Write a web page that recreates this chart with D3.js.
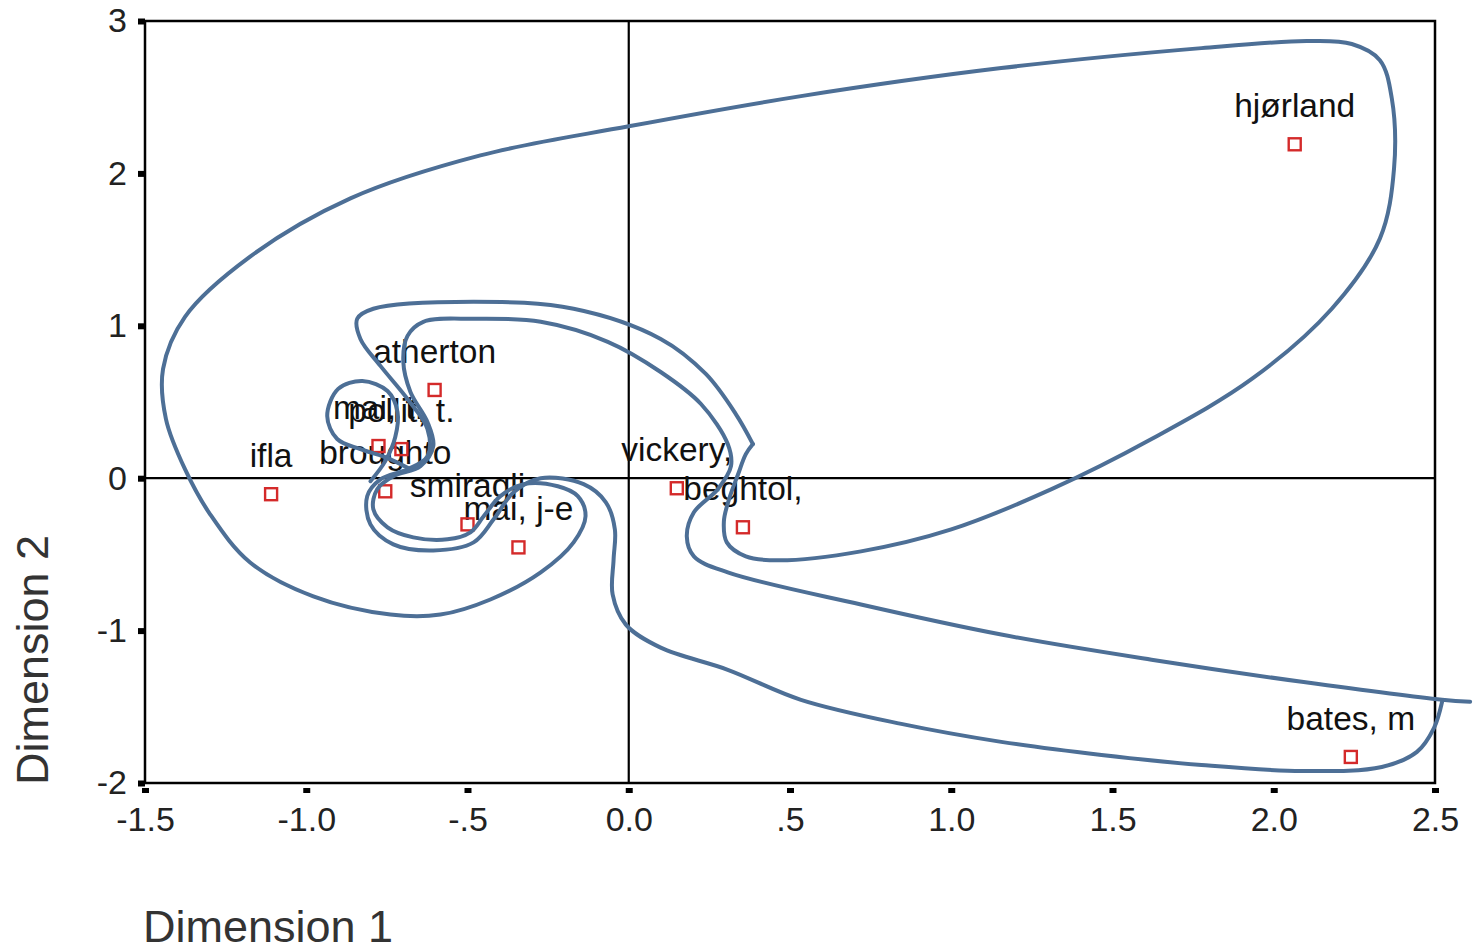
<!DOCTYPE html>
<html>
<head>
<meta charset="utf-8">
<script src="https://cdn.jsdelivr.net/npm/d3@7"></script>
<style>
  html, body { margin: 0; padding: 0; background: #fff; }
  svg { display: block; font-family: "Liberation Sans", Arial, sans-serif; }
</style>
</head>
<body>
<svg id="chart" width="1476" height="951"></svg>
<script>
// ---- data ----
const pointNames = ["ifla", "broughto", "mai, t.", "pollit, t.", "atherton", "smiragli", "mai, j-e", "vickery,", "beghtol,", "hjørland", "bates, m"];
const dim1 = [-1.109, -0.755, -0.776, -0.705, -0.602, -0.500, -0.342, 0.149, 0.354, 2.065, 2.239];
const dim2 = [-0.105, -0.086, 0.211, 0.191, 0.579, -0.303, -0.454, -0.066, -0.322, 2.191, -1.829];

const xTicks = [-1.5, -1.0, -0.5, 0.0, 0.5, 1.0, 1.5, 2.0, 2.5];
const xTickLabels = ["-1.5", "-1.0", "-.5", "0.0", ".5", "1.0", "1.5", "2.0", "2.5"];
const yTicks = [-2, -1, 0, 1, 2, 3];
const yTickLabels = ["-2", "-1", "0", "1", "2", "3"];

const xTitle = "Dimension 1";
const yTitle = "Dimension 2";

// hand-drawn grouping contours (in dimension units)
const contourOuter = [
  [0.385,0.224],[0.363,0.158],[0.339,0.026],[0.311,-0.138],[0.295,-0.283],[0.304,-0.421],[0.363,-0.513],[0.463,-0.539],
  [0.720,-0.480],[1.000,-0.336],[1.311,-0.072],[1.621,0.257],[1.932,0.651],[2.180,1.112],[2.329,1.572],[2.373,2.033],
  [2.366,2.493],[2.329,2.743],[2.242,2.849],[2.102,2.868],[1.776,2.822],[1.155,2.691],[0.534,2.507],[0.000,2.309],
  [-0.460,2.118],[-0.863,1.836],[-1.174,1.454],[-1.376,1.059],[-1.444,0.717],[-1.435,0.388],[-1.376,0.059],[-1.298,-0.237],
  [-1.174,-0.553],[-0.978,-0.776],[-0.739,-0.895],[-0.584,-0.895],[-0.429,-0.796],[-0.273,-0.618],[-0.171,-0.421],[-0.134,-0.250],
  [-0.158,-0.118],[-0.220,-0.053],[-0.326,-0.039],[-0.398,-0.118],[-0.450,-0.250],[-0.491,-0.355],[-0.562,-0.401],[-0.668,-0.388],
  [-0.748,-0.322],[-0.792,-0.204],[-0.780,-0.072],[-0.730,0.013],[-0.646,0.079],[-0.606,0.211],[-0.624,0.368],[-0.677,0.566],
  [-0.699,0.763],[-0.686,0.934],[-0.637,1.026],[-0.481,1.046],[-0.273,1.026],[-0.065,0.895],[0.099,0.697],[0.224,0.487],
  [0.307,0.224],[0.317,0.079],[0.276,-0.072],[0.202,-0.224],[0.180,-0.382],[0.202,-0.513],[0.307,-0.618],[0.720,-0.829],
  [1.155,-1.026],[1.621,-1.191],[2.087,-1.336],[2.522,-1.454],[2.609,-1.467]
];
const contourInner = [
  [2.522,-1.467],[2.497,-1.638],[2.444,-1.796],[2.335,-1.895],[2.087,-1.921],[1.776,-1.882],[1.466,-1.816],[1.155,-1.730],
  [0.845,-1.612],[0.534,-1.454],[0.307,-1.257],[0.099,-1.112],[-0.009,-0.961],[-0.050,-0.763],[-0.047,-0.533],[-0.043,-0.336],
  [-0.071,-0.158],[-0.140,-0.039],[-0.273,0.000],[-0.357,-0.092],[-0.419,-0.270],[-0.481,-0.421],[-0.606,-0.474],[-0.730,-0.434],
  [-0.801,-0.303],[-0.811,-0.118],[-0.770,-0.007],[-0.686,0.059],[-0.624,0.145],[-0.624,0.322],[-0.686,0.520],[-0.770,0.737],
  [-0.832,0.914],[-0.842,1.046],[-0.792,1.112],[-0.481,1.158],[-0.171,1.112],[0.099,0.914],[0.239,0.684],[0.332,0.421],
  [0.385,0.224]
];
const contourSmall = [
  [-0.801,-0.020],[-0.755,0.112],[-0.724,0.270],[-0.717,0.434],[-0.748,0.572],[-0.826,0.638],[-0.901,0.586],[-0.935,0.408],
  [-0.904,0.257],[-0.832,0.191],[-0.755,0.138],[-0.677,0.059]
];
const contours = [contourOuter, contourInner, contourSmall];

// ---- layout ----
const svg = d3.select("#chart");
const plotLeft = 145, plotRight = 1435, plotTop = 21, plotBottom = 783;

const x = d3.scaleLinear().domain([-1.5, 2.5]).range([plotLeft, plotRight]);
const y = d3.scaleLinear().domain([-2, 3]).range([plotBottom, plotTop]);

const ink = "#111";

// frame
svg.append("rect")
  .attr("x", plotLeft).attr("y", plotTop)
  .attr("width", plotRight - plotLeft).attr("height", plotBottom - plotTop)
  .attr("fill", "none").attr("stroke", "#000").attr("stroke-width", 2.5);

// reference lines at zero
svg.append("line")
  .attr("x1", x(0)).attr("x2", x(0)).attr("y1", plotTop).attr("y2", plotBottom)
  .attr("stroke", "#000").attr("stroke-width", 2.2);
svg.append("line")
  .attr("x1", plotLeft).attr("x2", plotRight).attr("y1", y(0)).attr("y2", y(0))
  .attr("stroke", "#000").attr("stroke-width", 2.2);

// x axis (ticks sit just below the frame)
const xAxis = d3.axisBottom(x)
  .tickValues(xTicks)
  .tickFormat((d, i) => xTickLabels[i])
  .tickSize(5).tickPadding(14);
const gx = svg.append("g").attr("transform", `translate(0,${plotBottom + 5})`).call(xAxis);
gx.select(".domain").remove();
gx.selectAll(".tick line").attr("stroke", "#000").attr("stroke-width", 7);
gx.selectAll(".tick text")
  .attr("fill", "#222").attr("font-size", 34)
  .attr("font-family", "Liberation Sans, Arial, sans-serif");

// y axis
const yAxis = d3.axisLeft(y)
  .tickValues(yTicks)
  .tickFormat((d, i) => yTickLabels[i])
  .tickSize(7).tickPadding(11);
const gy = svg.append("g").attr("transform", `translate(${plotLeft},0)`).call(yAxis);
gy.select(".domain").remove();
gy.selectAll(".tick line").attr("stroke", "#000").attr("stroke-width", 6);
gy.selectAll(".tick text")
  .attr("fill", "#222").attr("font-size", 34)
  .attr("font-family", "Liberation Sans, Arial, sans-serif");

// axis titles
svg.append("text")
  .attr("x", 143).attr("y", 942)
  .attr("font-size", 45).attr("fill", "#333")
  .text(xTitle);
svg.append("text")
  .attr("transform", `translate(48,785) rotate(-90)`)
  .attr("font-size", 45).attr("fill", "#333")
  .text(yTitle);

// points
const pts = pointNames.map((n, i) => ({ name: n, x: dim1[i], y: dim2[i] }));

svg.append("g").selectAll("text").data(pts).join("text")
  .attr("x", d => x(d.x))
  .attr("y", d => y(d.y) - 27)
  .attr("text-anchor", "middle")
  .attr("font-size", 33.5)
  .attr("fill", ink)
  .text(d => d.name);

svg.append("g").selectAll("rect").data(pts).join("rect")
  .attr("x", d => x(d.x) - 6)
  .attr("y", d => y(d.y) - 6)
  .attr("width", 12).attr("height", 12)
  .attr("fill", "none")
  .attr("stroke", "#d42a2a")
  .attr("stroke-width", 2.4);

// contours on top
const line = d3.line()
  .x(d => x(d[0]))
  .y(d => y(d[1]))
  .curve(d3.curveCatmullRom.alpha(0.5));

svg.append("g").selectAll("path").data(contours).join("path")
  .attr("d", line)
  .attr("fill", "none")
  .attr("stroke", "#4d6f96")
  .attr("stroke-width", 4)
  .attr("stroke-linejoin", "round")
  .attr("stroke-linecap", "round");
</script>
</body>
</html>
